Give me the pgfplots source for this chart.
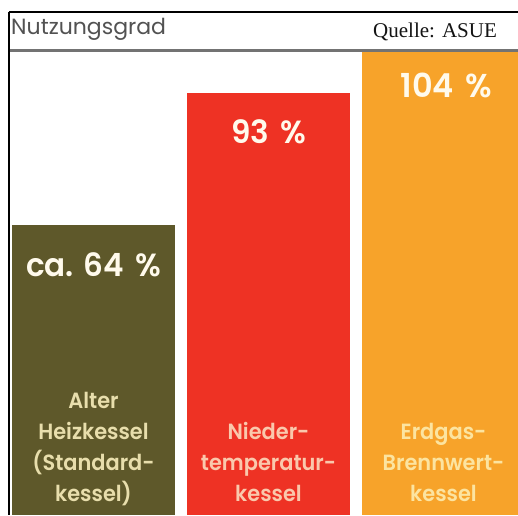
\documentclass[border=0pt]{standalone}
\usepackage{pgfplots}
\pgfplotsset{compat=1.18}
\usepackage{fontspec}
\setmainfont{Poppins}
\newfontfamily\cond[FakeStretch=0.95]{Poppins SemiBold}
\newfontfamily\vals[FakeStretch=0.97]{Poppins SemiBold}
\newfontfamily\hdr{Poppins}
\newfontfamily\serif{Liberation Serif}
\definecolor{cOlive}{RGB}{94,88,42}
\definecolor{cRed}{RGB}{238,50,36}
\definecolor{cOrange}{RGB}{247,163,42}
\definecolor{tOlive}{RGB}{232,222,172}
\definecolor{tRed}{RGB}{250,200,172}
\definecolor{tOrange}{RGB}{252,228,160}
\definecolor{tVal}{RGB}{255,250,236}
\begin{document}
\begin{tikzpicture}
\begin{axis}[
  scale only axis, width=518pt, height=515pt,
  xmin=-0.5343, xmax=2.4257, ymin=0, ymax=113.54,
  hide axis, ybar, bar width=0.931, bar shift=0pt,
  clip=true,
]
\addplot[fill=cOlive, draw=none] coordinates {(0,64)};
\addplot[fill=cRed, draw=none] coordinates {(1,93)};
\addplot[fill=cOrange, draw=none] coordinates {(2,104)};
% header
\fill[white] (axis cs:-0.5343,102.5) rectangle (axis cs:2.4257,113.54);
\draw[black, line width=2pt] (axis cs:-0.4829,110.8) -- (axis cs:2.4257,110.8);
\draw[black!55, line width=3pt] (axis cs:-0.4829,102.5) -- (axis cs:2.4257,102.5);
\draw[black, line width=2.5pt] (axis cs:-0.4829,111.0) -- (axis cs:-0.4829,0);
\node[anchor=base west, inner sep=0, text=black!68, font=\hdr\fontsize{22}{26}\selectfont] at (axis cs:-0.4714,106.0) {Nutzungsgrad};
\node[anchor=base west, inner sep=0, text=black!92, font=\serif\fontsize{21}{24}\selectfont] at (axis cs:1.597,105.2) {Quelle: ASUE};
% values
\node[anchor=base, inner sep=0, text=tVal, font=\vals\fontsize{32}{36}\selectfont] at (axis cs:0,52.5) {ca. 64\hspace{0.35em}\%};
\node[anchor=base, inner sep=0, text=tVal, font=\vals\fontsize{32}{36}\selectfont] at (axis cs:1,82.0) {93\hspace{0.35em}\%};
\node[anchor=base, inner sep=0, text=tVal, font=\vals\fontsize{33}{36}\selectfont] at (axis cs:2.017,92.1) {104\hspace{0.35em}\%};
% categories
\node[anchor=south, inner sep=0, text depth=0pt, align=center, text=tOlive, font=\cond\fontsize{22}{31}\selectfont] at (axis cs:0,2.87) {Alter\\Heizkessel\\(Standard-\\kessel)};
\node[anchor=south, inner sep=0, text depth=0pt, align=center, text=tRed, font=\cond\fontsize{22}{31}\selectfont] at (axis cs:1,2.87) {Nieder-\\temperatur-\\kessel};
\node[anchor=south, inner sep=0, text depth=0pt, align=center, text=tOrange, font=\cond\fontsize{22}{31}\selectfont] at (axis cs:2,2.87) {Erdgas-\\Brennwert-\\kessel};
\end{axis}
\end{tikzpicture}
\end{document}
